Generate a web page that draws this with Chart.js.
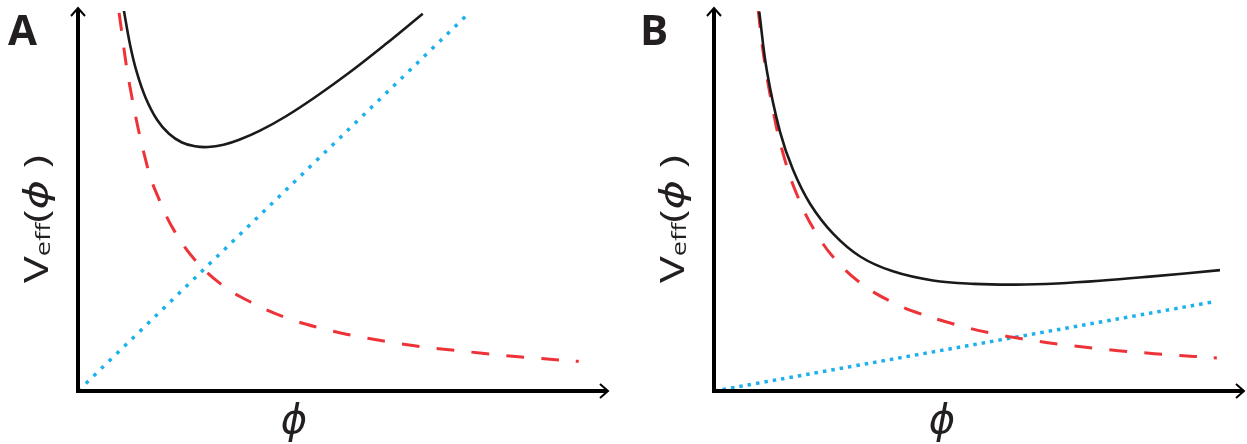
<!DOCTYPE html>
<html>
<head>
<meta charset="utf-8">
<script src="https://cdn.jsdelivr.net/npm/chart.js@4/dist/chart.umd.min.js"></script>
<style>
  body { margin: 0; background: #fff; }
  .panel { position: absolute; top: 0; height: 444px; }
</style>
</head>
<body>
<div class="panel" style="left:0;width:623px"><canvas id="chartA"></canvas></div>
<div class="panel" style="left:623px;width:624px"><canvas id="chartB"></canvas></div>
<script>
// Panel A (arbitrary units, axes 0..10)
var totalA_x = [0.88, 1.00, 1.13, 1.30, 1.52, 1.75, 2.00, 2.25, 2.50, 2.80, 3.10, 3.50, 4.00, 4.60, 5.20, 5.90, 6.63];
var totalA_y = [10.03, 9.12, 8.39, 7.72, 7.14, 6.77, 6.54, 6.44, 6.42, 6.48, 6.61, 6.85, 7.23, 7.77, 8.36, 9.11, 9.93];
var repA_x = [0.79, 1.00, 1.35, 1.58, 1.85, 2.25, 2.77, 3.35, 3.98, 4.65, 5.33, 6.00, 6.69, 7.38, 8.08, 8.75, 9.63];
var repA_y = [9.95, 8.00, 5.82, 4.98, 4.22, 3.45, 2.79, 2.32, 1.94, 1.66, 1.45, 1.29, 1.15, 1.05, 0.95, 0.87, 0.78];
var attA_x = [0.0, 7.5];
var attA_y = [0.0, 9.92];

// Panel B
var totalB_x = [0.87, 1.02, 1.27, 1.52, 1.85, 2.29, 2.81, 3.44, 4.21, 5.00, 5.80, 6.60, 7.42, 8.38, 9.73];
var totalB_y = [9.98, 8.40, 6.82, 5.82, 4.92, 4.14, 3.54, 3.15, 2.91, 2.82, 2.80, 2.83, 2.90, 3.01, 3.18];
var repB_x = [0.85, 0.94, 1.12, 1.31, 1.60, 1.98, 2.42, 2.94, 3.44, 3.87, 4.67, 5.37, 6.08, 6.71, 7.42, 8.13, 8.81, 9.67];
var repB_y = [10.03, 8.97, 7.50, 6.34, 5.15, 4.12, 3.33, 2.72, 2.33, 2.08, 1.74, 1.51, 1.34, 1.22, 1.11, 1.02, 0.95, 0.87];
var attB_x = [0.0, 9.58];
var attB_y = [0.0, 2.34];

function pts(xs, ys) {
  return xs.map(function (x, i) { return { x: x, y: ys[i] }; });
}

function drawYLabel(ctx, xBase, yStart, len) {
  ctx.save();
  ctx.translate(xBase, yStart);
  ctx.rotate(-Math.PI / 2);
  var big = '33px "Open Sans", "DejaVu Sans", sans-serif';
  var sub = '20px "Open Sans", "DejaVu Sans", sans-serif';
  var ital = 'italic 33px "Open Sans", "DejaVu Sans", sans-serif';
  var parts = [
    { t: 'V', f: big, dy: 0 },
    { t: 'eff', f: sub, dy: 2 },
    { t: '(', f: big, dy: 0 },
    { t: '\u03D5', f: ital, dy: 0 },
    { t: ' )', f: big, dy: 0 }
  ];
  var w = 0;
  parts.forEach(function (p) { ctx.font = p.f; p.w = ctx.measureText(p.t).width; w += p.w; });
  ctx.scale(len / w, 1);
  ctx.fillStyle = '#231f20';
  ctx.textBaseline = 'alphabetic';
  var x = 0;
  parts.forEach(function (p) { ctx.font = p.f; ctx.fillText(p.t, x, p.dy); x += p.w; });
  ctx.restore();
}

function axesPlugin(letter, letterX, phiOffset) {
  return {
    id: 'axesArrows',
    afterDatasetsDraw: function (chart) {
      var ctx = chart.ctx, a = chart.chartArea;
      var L = a.left, B = a.bottom, T = a.top, R = a.right;
      ctx.save();
      ctx.strokeStyle = '#000';
      ctx.lineWidth = 4;
      ctx.beginPath();
      ctx.moveTo(L, B + 2); ctx.lineTo(L, T - 2);
      ctx.moveTo(L - 2, B); ctx.lineTo(R + 9, B);
      ctx.stroke();
      ctx.lineWidth = 2;
      ctx.beginPath();
      ctx.moveTo(L - 7, T + 5); ctx.lineTo(L, T - 3); ctx.lineTo(L + 7, T + 5);
      ctx.moveTo(R + 2, B - 7); ctx.lineTo(R + 10, B); ctx.lineTo(R + 2, B + 7);
      ctx.stroke();

      ctx.fillStyle = '#231f20';
      ctx.font = 'bold 42px "Open Sans", sans-serif';
      ctx.textBaseline = 'alphabetic';
      ctx.fillText(letter, letterX, 45);

      ctx.font = 'italic 40px "Open Sans", "DejaVu Sans", sans-serif';
      ctx.textAlign = 'center';
      ctx.fillText('\u03D5', L + phiOffset, 433);
      ctx.restore();

      drawYLabel(ctx, L - 30, 283, 128);
    }
  };
}

function makePanel(id, pad, sets, letter, letterX, phiOffset) {
  var dsets = [
    { data: pts(sets[0][0], sets[0][1]), borderColor: '#1a1a1a', borderWidth: 2.6, order: 0 },
    { data: pts(sets[1][0], sets[1][1]), borderColor: '#ee3338', borderWidth: 3, borderDash: [18, 17], order: 1 },
    { data: pts(sets[2][0], sets[2][1]), borderColor: '#1cb0ec', borderWidth: 3.5, borderDash: sets[3], order: 2 }
  ];
  dsets.forEach(function (d) {
    d.pointRadius = 0;
    d.fill = false;
    d.tension = 0.4;
  });
  return new Chart(document.getElementById(id), {
    type: 'line',
    data: { datasets: dsets },
    options: {
      responsive: true,
      maintainAspectRatio: false,
      animation: false,
      layout: { padding: pad },
      plugins: { legend: { display: false }, tooltip: { enabled: false } },
      scales: {
        x: { type: 'linear', min: 0, max: 10, display: false },
        y: { type: 'linear', min: 0, max: 10, display: false }
      }
    },
    plugins: [axesPlugin(letter, letterX, phiOffset)]
  });
}

makePanel('chartA', { left: 78, top: 11, right: 25, bottom: 53 },
  [[totalA_x, totalA_y], [repA_x, repA_y], [attA_x, attA_y], [3.5, 7.2]], 'A', 8, 216);
makePanel('chartB', { left: 91, top: 11, right: 13, bottom: 53 },
  [[totalB_x, totalB_y], [repB_x, repB_y], [attB_x, attB_y], [3.5, 5]], 'B', 17, 228);
</script>
</body>
</html>
